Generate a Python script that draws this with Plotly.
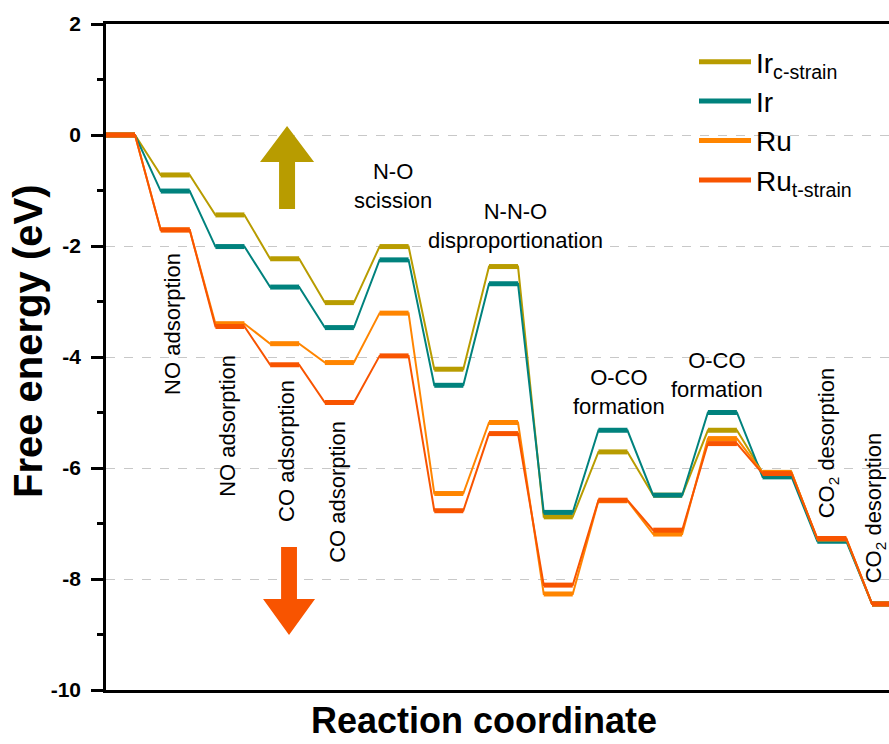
import plotly.graph_objects as go

# ---------------- data ----------------
series_names = ["Ir<sub>c-strain</sub>", "Ir", "Ru", "Ru<sub>t-strain</sub>"]
series_colors = ["#B89C00", "#00827D", "#FF8500", "#F85400"]
ir_c = [0, -0.72, -1.44, -2.23, -3.02, -2.01, -4.22, -2.37, -6.88, -5.71, -6.49, -5.32, -6.08, -7.29, -8.45]
ir = [0, -1.01, -2.01, -2.74, -3.47, -2.25, -4.51, -2.68, -6.80, -5.32, -6.49, -5.00, -6.16, -7.32, -8.45]
ru = [0, -1.71, -3.40, -3.76, -4.10, -3.21, -6.46, -5.18, -8.27, -6.59, -7.19, -5.47, -6.08, -7.28, -8.45]
ru_t = [0, -1.71, -3.45, -4.14, -4.82, -3.98, -6.77, -5.38, -8.11, -6.58, -7.12, -5.56, -6.10, -7.27, -8.45]
series_values = [ir_c, ir, ru, ru_t]

level_width = 0.53  # width of each energy level in step units

step_labels = [
    # text, x, y, angle
    ("NO adsorption", 1.21, -3.40, -90),
    ("NO adsorption", 2.23, -5.24, -90),
    ("CO adsorption", 3.31, -5.69, -90),
    ("CO adsorption", 4.24, -6.43, -90),
    ("N-O<br>scission", 5.25, -0.92, 0),
    ("N-N-O<br>disproportionation", 7.48, -1.64, 0),
    ("O-CO<br>formation", 9.38, -4.63, 0),
    ("O-CO<br>formation", 11.17, -4.32, 0),
    ("CO<sub>2</sub> desorption", 13.20, -5.55, -90),
    ("CO<sub>2</sub> desorption", 14.06, -6.72, -90),
]

FONT = "Liberation Sans, Arial, sans-serif"

fig = go.Figure()

for name, color, vals in zip(series_names, series_colors, series_values):
    xs, ys = [], []
    for i, v in enumerate(vals):
        xs += [i, i + level_width]
        ys += [v, v]
    fig.add_trace(go.Scatter(x=xs, y=ys, mode="lines", line=dict(color=color, width=2),
                             showlegend=False, hoverinfo="skip"))
    lx, ly = [], []
    for i, v in enumerate(vals):
        lx += [i, i + level_width, None]
        ly += [v, v, None]
    fig.add_trace(go.Scatter(x=lx, y=ly, mode="lines", line=dict(color=color, width=5),
                             name=name, connectgaps=False))

# arrows (block arrows)
up = "M 3.163 -1.333 L 3.163 -0.486 L 2.815 -0.486 L 3.309 0.162 L 3.803 -0.486 L 3.455 -0.486 L 3.455 -1.333 Z"
down = "M 3.20 -7.423 L 3.20 -8.36 L 2.87 -8.36 L 3.345 -9.009 L 3.82 -8.36 L 3.49 -8.36 L 3.49 -7.423 Z"
fig.add_shape(type="path", path=up, xref="x", yref="y", fillcolor="#B89C00", line=dict(width=0))
fig.add_shape(type="path", path=down, xref="x", yref="y", fillcolor="#F85400", line=dict(width=0))

for text, x, y, ang in step_labels:
    fig.add_annotation(x=x, y=y, xref="x", yref="y", text=text, showarrow=False,
                       textangle=ang, xanchor="center", yanchor="middle",
                       font=dict(family=FONT, size=22, color="black"))

# axis titles
fig.add_annotation(x=0, y=0.5, xref="paper", yref="paper", text="<b>Free energy (eV)</b>",
                   showarrow=False, textangle=-90, xanchor="center", yanchor="middle",
                   xshift=28 - 106, yshift=15,
                   font=dict(family=FONT, size=40, color="black"))
fig.add_annotation(x=0.5, y=0, xref="paper", yref="paper", text="<b>Reaction coordinate</b>",
                   showarrow=False, xanchor="center", yanchor="bottom",
                   xshift=484 - (106 + 0.5 * 783), yshift=-53,
                   font=dict(family=FONT, size=36, color="black"))

fig.update_layout(
    width=889, height=744,
    margin=dict(l=106, r=0, t=24, b=54),
    plot_bgcolor="white", paper_bgcolor="white",
    font=dict(family=FONT, color="black"),
    legend=dict(x=(694 - 106) / 783, y=(690 - 37) / 666, xanchor="left", yanchor="top",
                font=dict(family=FONT, size=28, color="black"),
                bgcolor="rgba(0,0,0,0)", itemwidth=52),
)
fig.update_xaxes(range=[0, 14.31], showticklabels=False, ticks="", showgrid=False,
                 zeroline=False, showline=True, linecolor="black", linewidth=2.5, mirror=True)
fig.update_yaxes(range=[-10, 2], tickvals=[2, 0, -2, -4, -6, -8, -10],
                 ticktext=["<b>2</b>", "<b>0</b>", "<b>-2</b>", "<b>-4</b>", "<b>-6</b>", "<b>-8</b>", "<b>-10</b>"],
                 ticks="outside", ticklen=12, tickwidth=2.5, tickcolor="black",
                 ticklabelstandoff=6,
                 tickfont=dict(family=FONT, size=21, color="black"),
                 minor=dict(ticks="outside", ticklen=6, tickwidth=2.5, tickcolor="black", dtick=1, tick0=1, showgrid=False),
                 showgrid=True, gridcolor="#c8c8c8", griddash="dash", gridwidth=1,
                 zeroline=False, showline=True, linecolor="black", linewidth=2.5, mirror=False)

fig.write_html("out.html")
